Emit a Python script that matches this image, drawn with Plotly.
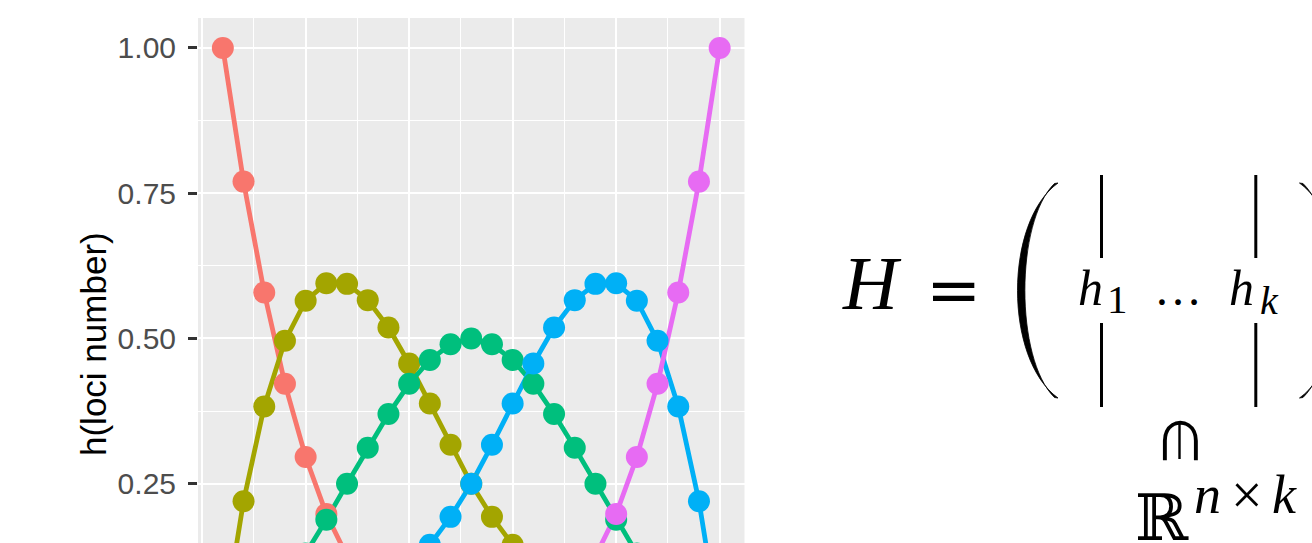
import plotly.graph_objects as go

W, H = 1312, 543

# loci positions along the x axis
loci = [1, 2, 3, 4, 5, 6, 7, 8, 9, 10, 11, 12, 13,
        14, 15, 16, 17, 18, 19, 20, 21, 22, 23, 24, 25]

# cubic B-spline basis values h1..h5 evaluated at each locus
h1 = [1.000, 0.770, 0.579, 0.422, 0.296, 0.198, 0.125, 0.072, 0.037, 0.016, 0.005, 0.001, 0.000,
      0.000, 0.000, 0.000, 0.000, 0.000, 0.000, 0.000, 0.000, 0.000, 0.000, 0.000, 0.000]
h2 = [0.000, 0.220, 0.383, 0.496, 0.565, 0.595, 0.594, 0.566, 0.519, 0.457, 0.388, 0.317, 0.250,
      0.193, 0.145, 0.105, 0.074, 0.050, 0.031, 0.018, 0.009, 0.004, 0.001, 0.000, 0.000]
h3 = [0.000, 0.010, 0.037, 0.078, 0.130, 0.188, 0.250, 0.312, 0.370, 0.422, 0.463, 0.490, 0.500,
      0.490, 0.463, 0.422, 0.370, 0.312, 0.250, 0.188, 0.130, 0.078, 0.037, 0.010, 0.000]
h4 = [0.000, 0.000, 0.001, 0.004, 0.009, 0.018, 0.031, 0.050, 0.074, 0.105, 0.145, 0.193, 0.250,
      0.317, 0.388, 0.457, 0.519, 0.566, 0.594, 0.595, 0.565, 0.496, 0.383, 0.220, 0.000]
h5 = [0.000, 0.000, 0.000, 0.000, 0.000, 0.000, 0.000, 0.000, 0.000, 0.000, 0.000, 0.000, 0.000,
      0.001, 0.005, 0.016, 0.037, 0.072, 0.125, 0.198, 0.296, 0.422, 0.579, 0.770, 1.000]

basis = [h1, h2, h3, h4, h5]
colors = ["#F8766D", "#A3A500", "#00BF7D", "#00B0F6", "#E76BF3"]

y_ticks = [0.25, 0.50, 0.75, 1.00]
y_ticktext = ["0.25", "0.50", "0.75", "1.00"]

fig = go.Figure()

# lines first, points drawn on top
for vals, col in zip(basis, colors):
    fig.add_trace(go.Scatter(x=loci, y=vals, mode="lines",
                             line=dict(color=col, width=4.8),
                             showlegend=False, hoverinfo="skip"))
for vals, col in zip(basis, colors):
    fig.add_trace(go.Scatter(x=loci, y=vals, mode="markers",
                             marker=dict(color=col, size=22, line=dict(width=0)),
                             showlegend=False, hoverinfo="skip"))

fig.update_layout(
    width=W, height=H,
    margin=dict(l=0, r=0, t=0, b=0),
    paper_bgcolor="white",
    plot_bgcolor="#EBEBEB",
    showlegend=False,
    xaxis=dict(
        domain=[198 / W, 744.5 / W],
        range=[-0.2, 26.2],
        tick0=0, dtick=5,
        showgrid=True, gridcolor="white", gridwidth=2.4,
        minor=dict(tick0=0, dtick=2.5, showgrid=True, gridcolor="white", gridwidth=1.4),
        showticklabels=False, ticks="", zeroline=False, showline=False,
        automargin=False,
    ),
    yaxis=dict(
        domain=[0, 1 - 18 / H],
        range=[0.148, 1.0516],
        tickmode="array", tickvals=y_ticks, ticktext=y_ticktext,
        ticks="outside", ticklen=9, tickwidth=2.5, tickcolor="#333333",
        tickfont=dict(family="Liberation Sans, Arial, sans-serif", size=30, color="#4D4D4D"),
        ticklabelstandoff=6,
        showgrid=True, gridcolor="white", gridwidth=2.4,
        minor=dict(tick0=0, dtick=0.125, showgrid=True, gridcolor="white", gridwidth=1.4),
        zeroline=False, showline=False,
        automargin=False,
    ),
)

# y axis title
fig.add_annotation(text="h(loci number)", x=93 / W, y=1 - 344 / H,
                   xref="paper", yref="paper", xanchor="center", yanchor="middle",
                   textangle=-90, showarrow=False,
                   font=dict(family="Liberation Sans, Arial, sans-serif", size=35, color="black"))


def px(x):
    return x / W


def py(y):
    return 1 - y / H


def label(text, cx, cy, size, family="Liberation Serif, DejaVu Serif, serif"):
    fig.add_annotation(text=text, x=px(cx), y=py(cy), xref="paper", yref="paper",
                       xanchor="center", yanchor="middle", showarrow=False,
                       font=dict(family=family, size=size, color="black"))


# matrix formula H = ( h_1 ... h_k ) with R^{n x k} underneath
label("<i>H</i>", 872, 282.5, 76)
label("=", 953.5, 289.5, 66, family="DejaVu Serif, serif")
label("<i>h</i>", 1090, 288.3, 50)
label("1", 1117.5, 298.5, 41)
label("…", 1177.5, 288.5, 48)
label("<i>h</i>", 1241, 288.3, 50)
label("<i>k</i>", 1269, 300.2, 40)
# membership sign turned upright: an arch with a stem
label("∩", 1179.5, 433.5, 78)
fig.add_shape(type="line", xref="paper", yref="paper",
              x0=px(1179.5), x1=px(1179.5), y0=py(423), y1=py(459),
              line=dict(color="black", width=2.4))
label("ℝ", 1162, 517.5, 64, family="DejaVu Serif, serif")
label("<i>n</i>", 1207.5, 494.8, 54)
label("×", 1247, 494.8, 56)
label("<i>k</i>", 1284.5, 494.8, 54)


def paren_path(x_tip, x_in_tip, x_ctrl_out, x_ctrl_in, y_top, y_bot, c_top, c_bot):
    return ("M {:.5f},{:.5f} C {:.5f},{:.5f} {:.5f},{:.5f} {:.5f},{:.5f} "
            "L {:.5f},{:.5f} C {:.5f},{:.5f} {:.5f},{:.5f} {:.5f},{:.5f} Z").format(
        px(x_tip), py(y_top),
        px(x_ctrl_out), py(c_top), px(x_ctrl_out), py(c_bot), px(x_tip), py(y_bot),
        px(x_in_tip), py(y_bot - 0.5),
        px(x_ctrl_in), py(c_bot), px(x_ctrl_in), py(c_top), px(x_in_tip), py(y_top + 0.5))


# big parentheses
fig.add_shape(type="path", xref="paper", yref="paper",
              path=paren_path(1058.0, 1054.5, 1004, 1015, 183, 398, 222, 359),
              fillcolor="black", line=dict(color="black", width=0.8))
mirror = 2357.5
fig.add_shape(type="path", xref="paper", yref="paper",
              path=paren_path(mirror - 1058.0, mirror - 1054.5, mirror - 1004, mirror - 1015,
                              183, 398, 222, 359),
              fillcolor="black", line=dict(color="black", width=0.8))

# column rules around h_1 and h_k
for xv in (1101.5, 1255.8):
    for y0, y1 in ((175, 258), (323, 407)):
        fig.add_shape(type="line", xref="paper", yref="paper",
                      x0=px(xv), x1=px(xv), y0=py(y0), y1=py(y1),
                      line=dict(color="black", width=3))

fig.write_html("out.html")
